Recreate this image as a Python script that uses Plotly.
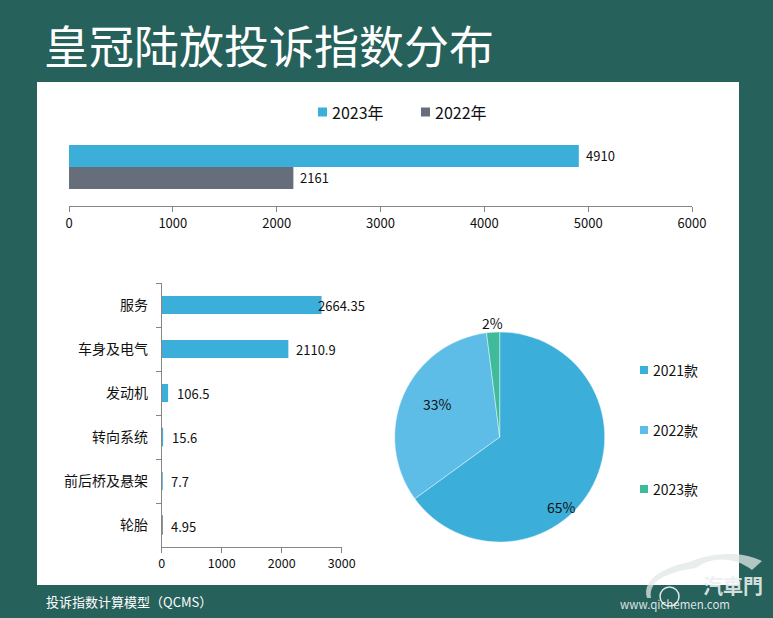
import plotly.graph_objects as go

W, H = 773, 618

title = "皇冠陆放投诉指数分布"
footer = "投诉指数计算模型（QCMS）"

years = ["2023年", "2022年"]
year_values = [4910, 2161]
top_ticks = [0, 1000, 2000, 3000, 4000, 5000, 6000]

systems = ["服务", "车身及电气", "发动机", "转向系统", "前后桥及悬架", "轮胎"]
system_values = [2664.35, 2110.9, 106.5, 15.6, 7.7, 4.95]
system_labels = ["2664.35", "2110.9", "106.5", "15.6", "7.7", "4.95"]
system_ticks = [0, 1000, 2000, 3000]

models = ["2021款", "2022款", "2023款"]
model_shares = [65, 33, 2]

GREEN = "#26615b"
BLUE = "#3baed9"
GRAY = "#666e7b"
LIGHT_BLUE = "#5dbde6"
TEAL = "#3dbb9b"
AXIS = "#868686"
INK = "#111111"
FONT = "Noto Sans CJK SC, Noto Sans, sans-serif"


# pixel helpers, the reference was measured in pixels
def px(x):
    return x / W


def py(y):
    return 1 - y / H


fig = go.Figure()

# top chart
fig.add_bar(
    x=[year_values[0]], y=["投诉指数"], name=years[0], orientation="h",
    marker=dict(color=BLUE, line_width=0), showlegend=False, xaxis="x", yaxis="y",
)
fig.add_bar(
    x=[year_values[1]], y=["投诉指数"], name=years[1], orientation="h",
    marker=dict(color=GRAY, line_width=0), showlegend=False, xaxis="x", yaxis="y",
)

# bottom left chart
small_bar_colors = [BLUE, BLUE, BLUE, BLUE, BLUE, GRAY]
small_bar_lines = [0, 0, 0, 1, 1, 1.5]
fig.add_trace(go.Bar(
    x=system_values, y=systems, orientation="h", showlegend=False,
    marker=dict(color=small_bar_colors, line=dict(color=small_bar_colors, width=small_bar_lines)),
    width=18 / 44, xaxis="x2", yaxis="y2",
))

# pie
fig.add_trace(go.Pie(
    labels=models, values=model_shares, sort=False, direction="clockwise", rotation=0,
    marker=dict(colors=[BLUE, LIGHT_BLUE, TEAL], line=dict(color="#e8f6fb", width=0.5)),
    textinfo="none", showlegend=False,
    domain=dict(x=[px(394.7), px(604.7)], y=[py(542), py(332)]),
))

annotations = []
shapes = []


def add_text(text, x, y, size, color=INK, anchor="left"):
    annotations.append(dict(
        text=text, x=px(x), y=py(y), xref="paper", yref="paper", showarrow=False,
        xanchor=anchor, yanchor="middle", font=dict(size=size, color=color, family=FONT),
    ))


def add_swatch(x, y, size, color):
    shapes.append(dict(
        type="rect", xref="paper", yref="paper", x0=px(x), x1=px(x + size),
        y0=py(y + size / 2), y1=py(y - size / 2), fillcolor=color, line_width=0,
    ))


# white panel behind the charts
shapes.append(dict(
    type="rect", xref="paper", yref="paper", x0=px(37), x1=px(739), y0=py(585), y1=py(82),
    fillcolor="white", line_width=0, layer="below",
))

add_text(title, 42, 44, 45, "white")
add_text(footer, 44, 601, 13, "white")

# legends
for name, color, swatch_x in zip(years, [BLUE, GRAY], [318, 421]):
    add_swatch(swatch_x, 112, 9, color)
    add_text(name, swatch_x + 12, 112, 16)

for name, color, row_y in zip(models, [BLUE, LIGHT_BLUE, TEAL], [370, 430, 489]):
    add_swatch(640, row_y, 8, color)
    add_text(name, 651, row_y, 14)

# value labels, placed through the data axes
for value, y_shift in zip(year_values, [12, -10]):
    annotations.append(dict(
        text=str(value), x=value, y="投诉指数", xref="x", yref="y", showarrow=False,
        xanchor="left", xshift=5, yshift=y_shift,
        font=dict(size=13, color=INK, family=FONT),
    ))

label_shifts = [-6, 6, 7, 7, 7, 7]
for value, name, label, shift in zip(system_values, systems, system_labels, label_shifts):
    annotations.append(dict(
        text=label, x=value, y=name, xref="x2", yref="y2", showarrow=False,
        xanchor="left", xshift=shift, yshift=-1,
        font=dict(size=13, color=INK, family=FONT),
    ))

for value, x, y in zip(model_shares, [561, 437, 493], [507, 404, 323]):
    add_text(f"{value}%", x, y, 14, anchor="center")

# watermark
shapes.append(dict(
    type="path", xref="paper", yref="paper", line_width=0, fillcolor="rgba(225,232,231,0.75)",
    path=(
        f"M {px(647)} {py(598)} C {px(641)} {py(578)} {px(668)} {py(566)} {px(690)} {py(562)} "
        f"C {px(702)} {py(556)} {px(735)} {py(548)} {px(762)} {py(561)} "
        f"L {px(752)} {py(570)} C {px(735)} {py(557)} {px(712)} {py(556)} {px(696)} {py(568)} "
        f"C {px(672)} {py(572)} {px(648)} {py(578)} {px(651)} {py(598)} Z"
    ),
))
shapes.append(dict(
    type="circle", xref="paper", yref="paper", x0=px(660), x1=px(679), y0=py(606), y1=py(587),
    line=dict(color="rgba(255,255,255,0.85)", width=1.5),
))
add_text("<b>汽車門</b>", 701, 585, 20, "rgba(235,240,239,0.9)")
add_text("www.qichemen.com", 618, 604, 11.5, "rgba(255,255,255,0.85)")

tick_font = dict(size=13, color=INK, family=FONT)

fig.update_layout(
    width=W, height=H, margin=dict(l=0, r=0, t=0, b=0, autoexpand=False),
    paper_bgcolor=GREEN, plot_bgcolor="rgba(0,0,0,0)",
    barmode="group", bargap=1 - 44 / 78, bargroupgap=0,
    annotations=annotations, shapes=shapes,
    xaxis=dict(
        domain=[px(69), px(692)], range=[0, 6000], anchor="y", tickvals=top_ticks,
        showgrid=False, zeroline=False, showline=True, linecolor=AXIS, linewidth=1,
        ticks="outside", ticklen=5, tickcolor=AXIS, tickfont=tick_font,
    ),
    yaxis=dict(
        domain=[py(206), py(128)], autorange="reversed", anchor="x", visible=False,
        type="category",
    ),
    xaxis2=dict(
        domain=[px(161.7), px(341.7)], range=[0, 3000], anchor="y2", tickvals=system_ticks,
        showgrid=False, zeroline=False, showline=True, linecolor=AXIS, linewidth=1,
        ticks="outside", ticklen=5, tickcolor=AXIS, tickfont=dict(size=12.5, color=INK, family=FONT),
    ),
    yaxis2=dict(
        domain=[py(547), py(283)], autorange="reversed", anchor="x2", type="category",
        showgrid=False, zeroline=False, showline=True, linecolor=AXIS, linewidth=1,
        ticks="outside", ticklen=5, tickcolor=AXIS, tickson="boundaries", ticklabelstandoff=10,
        tickfont=dict(size=14, color=INK, family=FONT),
    ),
)

fig.write_html(
    "out.html",
    config=dict(displayModeBar=False),
    post_script="document.body.style.margin='0';",
)
